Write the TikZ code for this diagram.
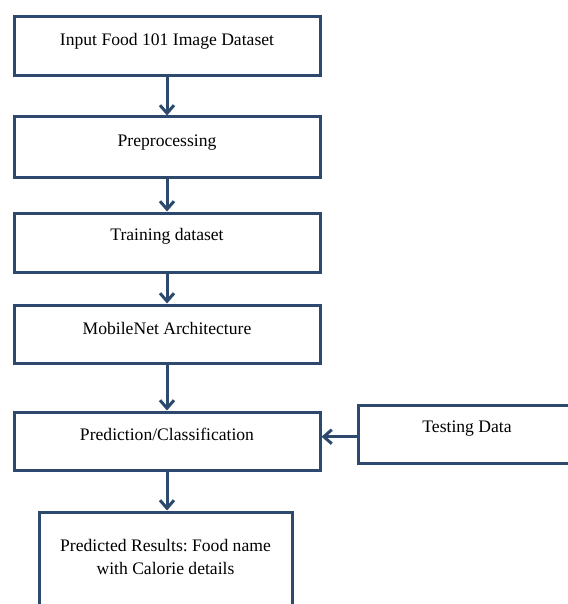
\documentclass[tikz,border=0pt]{standalone}
\usepackage{fontspec}
\setmainfont{Liberation Serif}
\usetikzlibrary{arrows.meta}
\definecolor{boxblue}{HTML}{2D4A6E}
\frenchspacing
\begin{document}
\begin{tikzpicture}[x=1pt,y=-1pt,
  box/.style={draw=boxblue,line width=3pt,fill=white,rectangle,inner sep=0pt},
  txt/.style={font=\fontsize{17.6}{22.6}\selectfont,align=center,inner sep=0pt,text=black},
  arr/.style={draw=boxblue,line width=3pt,-{Straight Barb[length=8pt,width=14pt,line width=3pt]}}]
\useasboundingbox (0,0) rectangle (567,604);
\node[box,minimum width=306pt,minimum height=59pt] (b1) at (167,46.5) {};
\node[box,minimum width=306pt,minimum height=60pt] (b2) at (167,147) {};
\node[box,minimum width=306pt,minimum height=59pt] (b3) at (167,242.5) {};
\node[box,minimum width=306pt,minimum height=58pt] (b4) at (167,334) {};
\node[box,minimum width=306pt,minimum height=58pt] (b5) at (167,441) {};
\node[box,minimum width=220pt,minimum height=58pt] (t) at (468,434) {};
\node[box,minimum width=253pt,minimum height=128pt] (b6) at (165.5,576) {};
\node[txt] (l1) at (167,41.5) {Input Food 101 Image Dataset};
\node[txt] (l2) at (167,142.5) {Preprocessing};
\node[txt] (l3) at (167,236.5) {Training dataset};
\node[txt] (l4) at (167,328.5) {MobileNet Architecture};
\node[txt] (l5) at (167,434.5) {Prediction/Classification};
\node[txt] (lt) at (467,428.5) {Testing Data};
\node[txt] (l6) at (165.5,557) {Predicted Results: Food name\\with Calorie details};
\draw[arr] (b1.south) -- (b2.north);
\draw[arr] (b2.south) -- (b3.north);
\draw[arr] (b3.south) -- (b4.north);
\draw[arr] (b4.south) -- (b5.north);
\draw[arr] (b5.south) -- (b5.south |- b6.north);
\draw[arr] (t.west |- 0,436.7) -- (b5.east |- 0,436.7);
\end{tikzpicture}
\end{document}
